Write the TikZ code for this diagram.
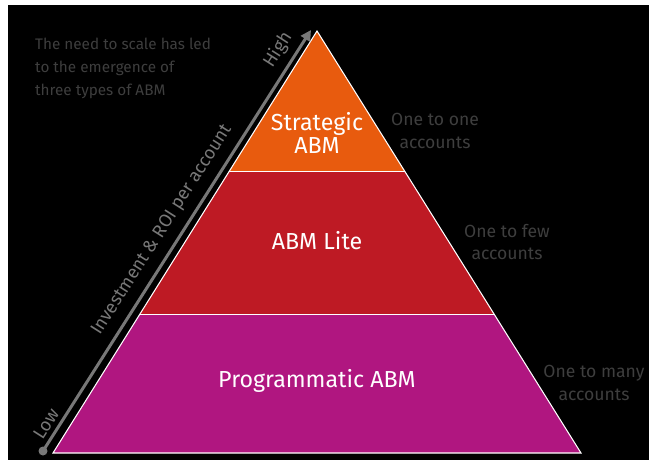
\documentclass[tikz,border=0pt]{standalone}
\usepackage{fontspec}
\setmainfont{Fira Sans}
\usetikzlibrary{shapes,arrows.meta,positioning,calc}

\definecolor{stratorange}{RGB}{232,91,14}
\definecolor{litered}{RGB}{190,26,36}
\definecolor{progmagenta}{RGB}{176,22,128}
\definecolor{notegray}{RGB}{62,62,62}
\definecolor{axisgray}{RGB}{120,120,120}

\begin{document}
\begin{tikzpicture}[x=0.02cm, y=-0.02cm]
\useasboundingbox (0,0) rectangle (649,460);
\fill[white] (0,0) rectangle (649,460);
\fill[black] (8,5) rectangle (649,460);

% 金字塔顶点
\coordinate (apex) at (317,31);
\coordinate (bl) at (53,453);
\coordinate (br) at (581,453);
\coordinate (l1) at ($(apex)!0.332!(bl)$);
\coordinate (r1) at ($(apex)!0.332!(br)$);
\coordinate (l2) at ($(apex)!0.671!(bl)$);
\coordinate (r2) at ($(apex)!0.671!(br)$);

% 三层
\fill[stratorange] (apex) -- (r1) -- (l1) -- cycle;
\fill[litered] (l1) -- (r1) -- (r2) -- (l2) -- cycle;
\fill[progmagenta] (l2) -- (r2) -- (br) -- (bl) -- cycle;
\draw[white, line width=0.6pt] (apex) -- (br) -- (bl) -- cycle;
\draw[white, line width=0.6pt] (l1) -- (r1);
\draw[white, line width=0.6pt] (l2) -- (r2);

% 层名称
\node[white, font=\fontsize{13.2}{13}\selectfont, align=center] (strategic) at (317,133) {Strategic\\ABM};
\node[white, font=\fontsize{13.2}{13}\selectfont] (lite) at (317,241) {ABM Lite};
\node[white, font=\fontsize{13.2}{13}\selectfont] (programmatic) at (317,381) {Programmatic ABM};

% 右侧说明
\node[notegray, font=\fontsize{10}{13}\selectfont, align=center] (one) at (435,131) {One to one\\accounts};
\node[notegray, font=\fontsize{10}{13}\selectfont, align=center] (few) at (507,242) {One to few\\accounts};
\node[notegray, font=\fontsize{10}{13}\selectfont, align=center] (many) at (594,383) {One to many\\accounts};

% 左上说明
\node[notegray, font=\fontsize{8.7}{13}\selectfont, align=left, anchor=north west] (intro) at (29,32) {The need to scale has led\\to the emergence of\\three types of ABM};

% 坐标轴
\coordinate (low) at (43,451);
\coordinate (high) at (311,30);
\draw[axisgray, line width=1.7pt, -{Triangle[length=6pt,width=6pt]}] (low) -- (high);
\fill[axisgray] (low) circle (4.5);
\node[axisgray, font=\fontsize{10.3}{10}\selectfont, rotate=57.5] (hightext) at (278,50) {High};
\node[axisgray, font=\fontsize{10.3}{10}\selectfont, rotate=57.5] (lowtext) at (46,424) {Low};
\node[axisgray, font=\fontsize{10.3}{10}\selectfont, rotate=57.5] (axistext) at (162,230) {Investment \& ROI per account};
\end{tikzpicture}
\end{document}
